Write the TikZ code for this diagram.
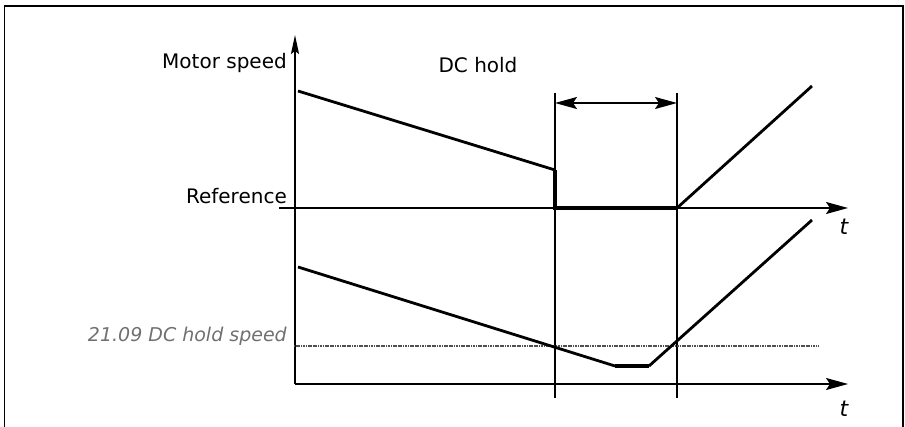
\documentclass[tikz,border=0pt]{standalone}
\usepackage{fontspec}
\setmainfont{DejaVu Sans}
\usepackage{xcolor}
\usepackage{tikz}
\usetikzlibrary{arrows.meta,positioning,calc}
\definecolor{holdgray}{HTML}{707070}
\definecolor{levelgray}{HTML}{505050}
\tikzset{
  lbl/.style={inner sep=0pt, font=\fontsize{20}{22}\selectfont},
  tlbl/.style={inner sep=0pt, font=\fontsize{22}{24}\selectfont\itshape},
  axis/.style={line width=1.7pt, -{Stealth[length=22pt,width=12pt,inset=4pt]}},
  yaxis/.style={line width=1.7pt, -{Stealth[length=19pt,width=8pt,inset=3pt]}},
  guide/.style={line width=1.4pt},
  curve/.style={line width=2.8pt},
  hold/.style={line width=4.8pt},
  span/.style={line width=1.7pt, {Stealth[length=22pt,width=12pt,inset=4pt]}-{Stealth[length=22pt,width=12pt,inset=4pt]}},
  level/.style={line width=2pt, levelgray, dash pattern=on 1.2pt off 0.5pt}
}

\begin{document}
\begin{tikzpicture}[x=1pt, y=-1pt]
  \useasboundingbox (0,0) rectangle (905,427);
  % frame
  \draw[line width=1.7pt] (4.5,427) -- (4.5,6) -- (903,6) -- (903,427);

  % axes
  \coordinate (org) at (295,384);
  \coordinate (ytop) at (295,35);
  \coordinate (refL) at (279,208);
  \coordinate (refR) at (848,208);
  \coordinate (botR) at (848,384);
  \draw[yaxis] (org) -- (ytop);
  \draw[axis] (refL) -- (refR);
  \draw[axis] (org) -- (botR);

  % DC hold window
  \coordinate (w1t) at (555,93);
  \coordinate (w1b) at (555,398);
  \coordinate (w2t) at (677,93);
  \coordinate (w2b) at (677,398);
  \draw[guide] (w1t) -- (w1b);
  \draw[guide] (w2t) -- (w2b);
  \draw[span] (555,103) coordinate (s1) -- (677,103) coordinate (s2);

  % hold speed level
  \coordinate (lvL) at (294,346);
  \coordinate (lvR) at (818,346);
  \draw[level] (lvL) -- (lvR);

  % motor speed vs reference
  \coordinate (a0) at (298,91);
  \coordinate (a1) at (555,170);
  \coordinate (a2) at (555,208);
  \coordinate (a3) at (677,208);
  \coordinate (a4) at (812,86);
  \draw[curve] (a0) -- (a1);
  \draw[hold, line join=miter] (a1) -- (a2) -- (a3);
  \draw[curve] (a3) -- (a4);

  % ramp down to hold speed
  \coordinate (b0) at (298,267);
  \coordinate (b1) at (615,366);
  \coordinate (b2) at (649,366);
  \coordinate (b3) at (812,220);
  \draw[curve] (b0) -- (b1);
  \draw[hold] (b1) -- (b2);
  \draw[curve] (b2) -- (b3);

  % labels
  \node[lbl, anchor=east] (mspd) at (287,63) {Motor speed};
  \node[lbl] (dch) at (478,65) {DC hold};
  \node[lbl, anchor=east] (ref) at (287,196) {Reference};
  \node[lbl, anchor=east, holdgray, font=\fontsize{19}{21}\selectfont\itshape] (hspd) at (287,336) {21.09 DC hold speed};
  \node[tlbl] (t1) at (844,227) {t};
  \node[tlbl] (t2) at (844,409) {t};
\end{tikzpicture}
\end{document}
